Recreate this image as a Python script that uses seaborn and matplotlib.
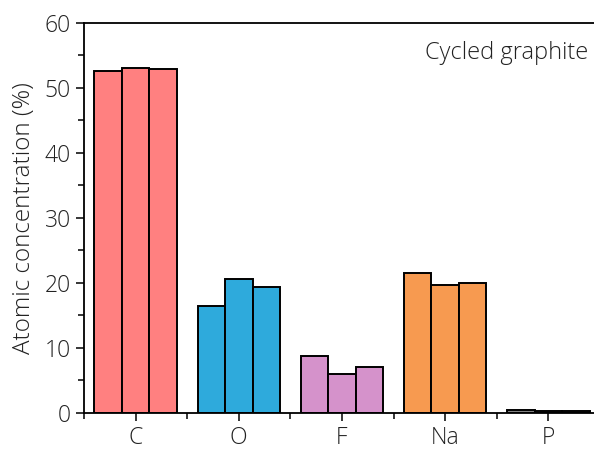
import numpy as np
import pandas as pd
import matplotlib
matplotlib.use("Agg")
import matplotlib.pyplot as plt
from matplotlib.ticker import MultipleLocator, FixedLocator
import seaborn as sns

# Data
elements = ["C", "O", "F", "Na", "P"]
sample_1 = [52.6, 16.4, 8.7, 21.5, 0.4]
sample_2 = [53.0, 20.6, 6.0, 19.6, 0.3]
sample_3 = [52.9, 19.4, 7.0, 20.0, 0.3]
element_colors = ["#FF8080", "#2EAADC", "#D592CB", "#F79A50", "#808080"]

df = pd.DataFrame({
    "element": elements * 3,
    "sample": ["s1"] * 5 + ["s2"] * 5 + ["s3"] * 5,
    "value": sample_1 + sample_2 + sample_3,
})

sns.set_style("ticks")
plt.rcParams["font.family"] = ["Open Sans", "DejaVu Sans"]
plt.rcParams["font.weight"] = "light"

fig = plt.figure(figsize=(5.94, 4.5), dpi=100)
ax = fig.add_axes([0.1414, 0.0822, 0.8686, 0.8678])

sns.barplot(data=df, x="element", y="value", hue="sample", order=elements,
            width=0.8, edgecolor="black", linewidth=1.4, legend=False, ax=ax)

# colour bars by element
for cont in ax.containers:
    for i, bar in enumerate(cont):
        bar.set_facecolor(element_colors[i])

ax.set_xlim(-0.5, len(elements) - 0.5)
ax.set_ylim(0, 60)
ax.yaxis.set_major_locator(MultipleLocator(10))
ax.yaxis.set_minor_locator(MultipleLocator(5))
ax.xaxis.set_minor_locator(FixedLocator(np.arange(-0.5, len(elements), 1.0)))

ax.set_xlabel("")
ax.set_ylabel("Atomic concentration (%)", fontsize=17.5, color="#222222",
              fontweight="light")
ax.yaxis.set_label_coords(-0.093, 0.5)
ax.tick_params(axis="both", which="major", direction="out", length=6, width=1.3,
               labelsize=16.5, labelcolor="#222222")
ax.tick_params(axis="both", which="minor", direction="out", length=4, width=1.3)
ax.tick_params(top=False, right=False)
for lbl in ax.get_xticklabels() + ax.get_yticklabels():
    lbl.set_fontweight("light")

for side in ["top", "right", "bottom", "left"]:
    ax.spines[side].set_visible(True)
    ax.spines[side].set_linewidth(1.3)
    ax.spines[side].set_color("black")

fig.text(0.991, 0.882, "Cycled graphite", ha="right", va="center",
         fontsize=17, fontweight="light", color="#222222")

fig.savefig("out.png", dpi=100)
plt.close(fig)
